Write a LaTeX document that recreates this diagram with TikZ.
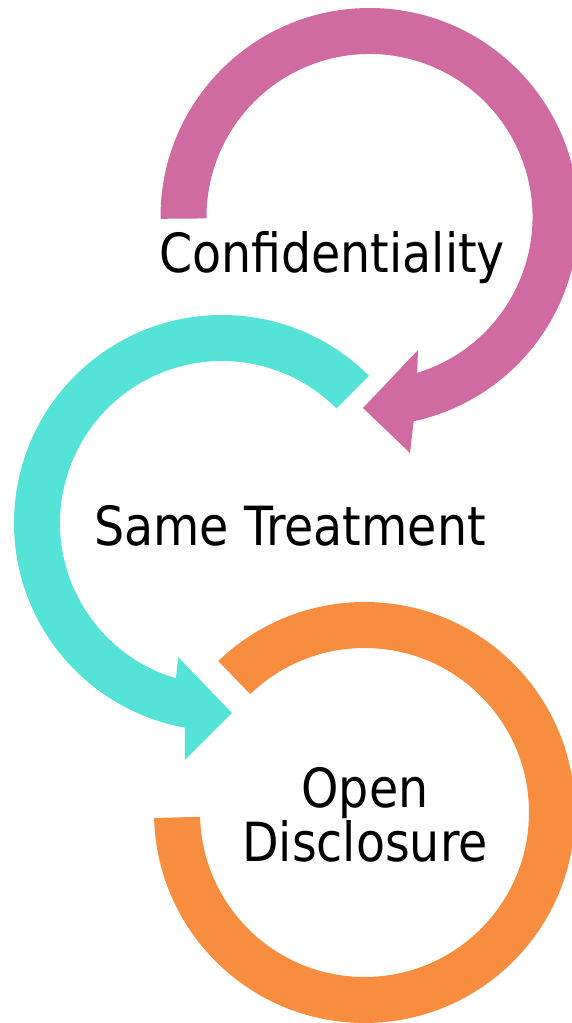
\documentclass[tikz,border=0pt]{standalone}
\usepackage{fontspec}
\setmainfont{DejaVu Sans}[FakeStretch=0.88]
\usetikzlibrary{calc}
\definecolor{pinkarc}{RGB}{207,107,160}
\definecolor{tealarc}{RGB}{85,227,216}
\definecolor{orangearc}{RGB}{249,141,63}
\begin{document}
\begin{tikzpicture}[x=1pt,y=1pt,
  txt/.style={font=\fontsize{54}{54}\selectfont, anchor=base, inner sep=0pt, text=black}]
\useasboundingbox (0,0) rectangle (571,1023);

% top arrow: from the left end, clockwise over the top, head pointing left
\coordinate (pc) at (369.5,806);
\fill[pinkarc] ($(pc)+(180.5:209)$) arc[start angle=180.5, end angle=-77.8, radius=209]
  -- (410,570) -- (363,615) -- (418,673) -- ($(pc)+(-73:163)$)
  arc[start angle=-73, end angle=180.5, radius=163] -- cycle;

% middle arrow: counter-clockwise round the left side, head pointing right
\coordinate (tc) at (222,500);
\fill[tealarc] ($(tc)+(45:208)$) arc[start angle=45, end angle=259.7, radius=208]
  -- (185,263) -- (232,310) -- (178,366) -- ($(tc)+(253.5:162)$)
  arc[start angle=253.5, end angle=45, radius=162] -- cycle;

% bottom ring, open at the upper left
\coordinate (oc) at (364.5,210.5);
\fill[orangearc] ($(oc)+(181.5:210.5)$) arc[start angle=181.5, end angle=494, radius=210.5]
  -- ($(oc)+(494:164.5)$) arc[start angle=494, end angle=181.5, radius=164.5] -- cycle;

\node[txt] (conf) at (332,750) {Confidentiality};
\node[txt] (same) at (290,477) {Same Treatment};
% base anchor of a two-line node sits on the last line
\node[txt, align=center] (open) at (365,161) {Open\\Disclosure};
\end{tikzpicture}
\end{document}
